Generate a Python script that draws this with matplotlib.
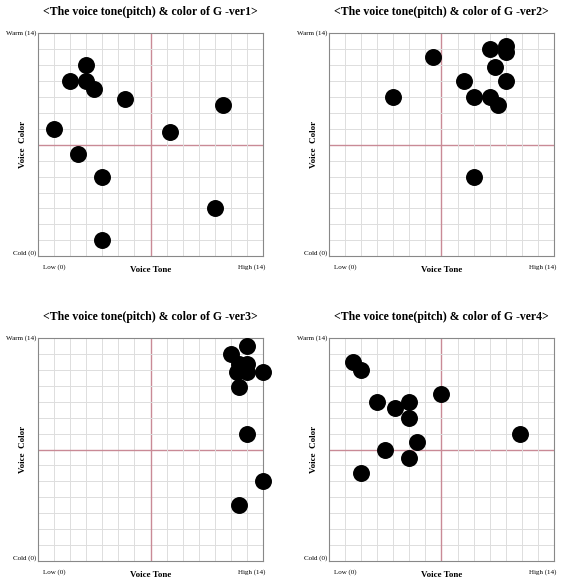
import matplotlib.pyplot as plt

plt.rcParams['font.family'] = ['Liberation Serif', 'DejaVu Serif']

titles = ["<The voice tone(pitch) & color of G -ver1>",
          "<The voice tone(pitch) & color of G -ver2>",
          "<The voice tone(pitch) & color of G -ver3>",
          "<The voice tone(pitch) & color of G -ver4>"]

ver1_x = [3, 2, 3, 3.5, 5.4, 11.5, 1, 8.2, 2.5, 4, 11, 4]
ver1_y = [12, 11, 11, 10.5, 9.9, 9.5, 8, 7.8, 6.4, 5, 3, 1]
ver2_x = [10, 11, 11, 6.5, 10.3, 8.4, 11, 4, 9, 10, 10.5, 9]
ver2_y = [13, 13.2, 12.8, 12.5, 11.9, 11, 11, 10, 10, 10, 9.5, 5]
ver3_x = [13, 12, 12.5, 13, 12.4, 13, 14, 12.5, 13, 14, 12.5]
ver3_y = [13.5, 13, 12.4, 12.4, 11.9, 11.9, 11.9, 10.9, 8, 5, 3.5]
ver4_x = [1.5, 2, 7, 3, 5, 4.1, 5, 11.9, 5.5, 3.5, 5, 2]
ver4_y = [12.5, 12, 10.5, 10, 10, 9.6, 9, 8, 7.5, 7, 6.5, 5.5]

data = [(ver1_x, ver1_y), (ver2_x, ver2_y), (ver3_x, ver3_y), (ver4_x, ver4_y)]
# axes boxes in figure fractions
boxes = [(0.067, 0.562, 0.398, 0.381), (0.581, 0.562, 0.398, 0.381),
         (0.067, 0.041, 0.398, 0.381), (0.581, 0.041, 0.398, 0.381)]

fig = plt.figure(figsize=(5.66, 5.85), dpi=100)
for (xs, ys), box, title in zip(data, boxes, titles):
    ax = fig.add_axes(box)
    ax.set_xlim(0, 14)
    ax.set_ylim(0, 14)
    for v in range(1, 14):
        c, lw = ('#c98a96', 1.0) if v == 7 else ('#dddddd', 0.7)
        ax.axvline(v, color=c, lw=lw, zorder=1)
        ax.axhline(v, color=c, lw=lw, zorder=1)
    ax.scatter(xs, ys, s=125, color='black', zorder=3, clip_on=False)
    ax.set_xticks([])
    ax.set_yticks([])
    for sp in ax.spines.values():
        sp.set_color('#888888')
        sp.set_linewidth(0.8)
    ax.set_title(title, fontsize=8.5, fontweight='bold', pad=13)
    ax.text(-0.1, 14, "Warm (14)", fontsize=5, ha='right', va='center')
    ax.text(-0.1, 0.2, "Cold (0)", fontsize=5, ha='right', va='center')
    ax.text(1.0, -0.5, "Low (0)", fontsize=5, ha='center', va='top')
    ax.text(13.3, -0.5, "High (14)", fontsize=5, ha='center', va='top')
    ax.set_xlabel("Voice Tone", fontsize=6.5, fontweight='bold', labelpad=7)
    ax.set_ylabel("Voice  Color", fontsize=6.5, fontweight='bold', labelpad=8)

plt.savefig("out.png")
